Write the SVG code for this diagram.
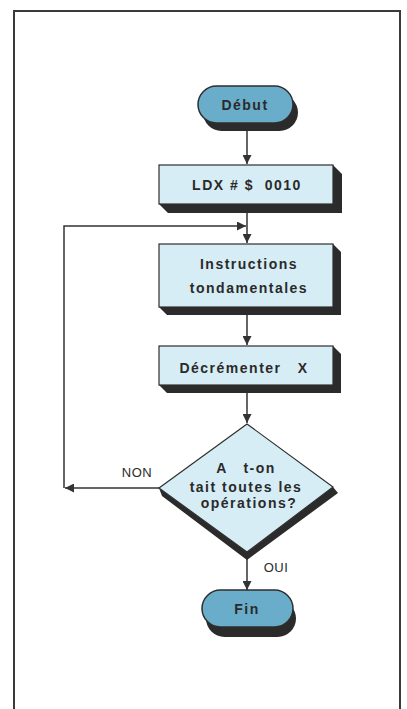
<svg xmlns="http://www.w3.org/2000/svg" width="407" height="709" viewBox="0 0 407 709">
<defs>
<style>
.frame{fill:none;stroke:#3a3a3a;stroke-width:2}
.term{fill:#6aadca;stroke:#2e2e2e;stroke-width:1.5}
.box{fill:#d6edf5;stroke:#2e2e2e;stroke-width:1.2}
.sh{fill:#2b2b2b}
.ln{fill:none;stroke:#333;stroke-width:1.5}
.t{font-family:"Liberation Sans",Arial,sans-serif;font-size:14px;font-weight:bold;fill:#2a2a2a;text-anchor:middle;letter-spacing:1.5px;white-space:pre}
.lbl{font-family:"Liberation Sans",Arial,sans-serif;font-size:13px;fill:#2a2a2a;text-anchor:middle;letter-spacing:0.5px}
</style>
<marker id="ahb" viewBox="0 0 10 10" refX="10" refY="5" markerWidth="9" markerHeight="9" markerUnits="userSpaceOnUse" orient="auto">
<path d="M0,0 L10,5 L0,10 z" fill="#333"/>
</marker>
</defs>
<rect width="407" height="709" fill="#ffffff"/>
<path class="frame" d="M14,720 V11 H400 V720"/>
<g id="connectors">
<path class="ln" d="M247,125 V164" marker-end="url(#ahb)"/>
<path class="ln" d="M247,213 V243" marker-end="url(#ahb)"/>
<path class="ln" d="M64,488 V226 H246" marker-end="url(#ahb)"/>
<path class="ln" d="M247,315 V345" marker-end="url(#ahb)"/>
<path class="ln" d="M247,393 V423" marker-end="url(#ahb)"/>
<path class="ln" d="M159,488 H65" marker-end="url(#ahb)"/>
<path class="ln" d="M247,558 V590" marker-end="url(#ahb)"/>
</g>
<g id="debut">
<rect class="sh" x="203" y="94" width="95" height="37" rx="18.5"/>
<rect class="term" x="198" y="86" width="95" height="37" rx="18.5"/>
<text class="t" x="245" y="110">Début</text>
</g>
<g id="ldx">
<polygon class="sh" points="159,204 333,204 333,165 342,174 342,213 168,213"/>
<rect class="box" x="159" y="165" width="174" height="39"/>
<text class="t" x="247" y="190" xml:space="preserve">LDX # $  0010</text>
</g>
<g id="instructions">
<polygon class="sh" points="159,307 333,307 333,244 341,252 341,315 167,315"/>
<rect class="box" x="159" y="244" width="174" height="63"/>
<text class="t" x="249" y="269">Instructions</text>
<text class="t" x="249" y="293">tondamentales</text>
</g>
<g id="decrementer">
<polygon class="sh" points="159,385 333,385 333,346 341,354 341,393 167,393"/>
<rect class="box" x="159" y="346" width="174" height="39"/>
<text class="t" x="244" y="373" xml:space="preserve">Décrémenter   X</text>
</g>
<g id="decision">
<polygon class="sh" points="159,488 247,552 333,487 338,493 247,560 162,496"/>
<polygon class="box" points="247,424 333,487 247,552 159,488"/>
<text class="t" x="246" y="473" xml:space="preserve">A   t-on</text>
<text class="t" x="246" y="492">tait toutes les</text>
<text class="t" x="249" y="508">opérations?</text>
</g>
<text class="lbl" x="137" y="477">NON</text>
<text class="lbl" x="276" y="572">OUI</text>
<g id="fin">
<rect class="sh" x="206" y="600" width="90" height="37" rx="18.5"/>
<rect class="term" x="202" y="590" width="91" height="37" rx="18.5"/>
<text class="t" x="247" y="614">Fin</text>
</g>
</svg>
